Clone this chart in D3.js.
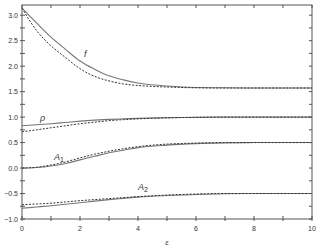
<!DOCTYPE html>
<html>
<head>
<meta charset="utf-8">
<script src="https://cdn.jsdelivr.net/npm/d3@7"></script>
<style>
  body { margin: 0; background: #fff; }
  svg text { font-family: Arial, "Liberation Sans", sans-serif; fill: #333; }
</style>
</head>
<body>
<div id="chart"></div>
<script>
// data
const eps = [0, 0.5, 1, 1.5, 2, 2.5, 3, 3.5, 4, 5, 6, 7, 8, 9, 10];

const fSolid  = [3.14, 2.85, 2.57, 2.33, 2.10, 1.94, 1.81, 1.73, 1.67, 1.61, 1.58, 1.575, 1.571, 1.571, 1.571];
const fDashed = [3.14, 2.70, 2.40, 2.17, 1.95, 1.80, 1.71, 1.65, 1.62, 1.59, 1.575, 1.571, 1.571, 1.571, 1.571];

const rhoSolid  = [0.83, 0.85, 0.87, 0.895, 0.92, 0.94, 0.955, 0.965, 0.975, 0.99, 0.995, 1.0, 1.0, 1.0, 1.0];
const rhoDashed = [0.71, 0.75, 0.79, 0.83, 0.87, 0.90, 0.93, 0.95, 0.965, 0.985, 0.995, 1.0, 1.0, 1.0, 1.0];

const a1Solid  = [0, 0.01, 0.04, 0.09, 0.16, 0.23, 0.30, 0.35, 0.40, 0.45, 0.48, 0.495, 0.5, 0.5, 0.5];
const a1Dashed = [0, 0.015, 0.06, 0.12, 0.20, 0.27, 0.33, 0.38, 0.42, 0.47, 0.49, 0.5, 0.5, 0.5, 0.5];

const a2Solid  = [-0.79, -0.765, -0.74, -0.71, -0.68, -0.65, -0.62, -0.595, -0.57, -0.54, -0.52, -0.505, -0.5, -0.5, -0.5];
const a2Dashed = [-0.72, -0.705, -0.69, -0.665, -0.64, -0.62, -0.60, -0.58, -0.56, -0.53, -0.51, -0.5, -0.5, -0.5, -0.5];

const xMajor = [0, 2, 4, 6, 8, 10];
const xMinor = [1, 3, 5, 7, 9];
const yMajor = [-1.0, -0.5, 0.0, 0.5, 1.0, 1.5, 2.0, 2.5, 3.0];
const yMinor = [-0.75, -0.25, 0.25, 0.75, 1.25, 1.75, 2.25, 2.75];

const width = 318, height = 250;
const plot = { left: 22, right: 312, top: 5, bottom: 219 };

const x = d3.scaleLinear().domain([0, 10]).range([plot.left, plot.right]);
const y = d3.scaleLinear().domain([-1, 3.2]).range([plot.bottom, plot.top]);

const svg = d3.select("#chart").append("svg")
    .attr("width", width)
    .attr("height", height);

const line = d3.line()
    .x((d, i) => x(eps[i]))
    .y(d => y(d))
    .curve(d3.curveMonotoneX);

// curves
const curves = [
    [fSolid, false], [fDashed, true],
    [rhoSolid, false], [rhoDashed, true],
    [a1Solid, false], [a1Dashed, true],
    [a2Solid, false], [a2Dashed, true]
];
svg.append("g").selectAll("path")
    .data(curves).enter()
    .append("path")
    .attr("d", d => line(d[0]))
    .attr("fill", "none")
    .attr("stroke", d => d[1] ? "#333" : "#777")
    .attr("stroke-width", d => d[1] ? 1 : 1.1)
    .attr("stroke-dasharray", d => d[1] ? "2,1.5" : null);

// frame
svg.append("rect")
    .attr("x", plot.left).attr("y", plot.top)
    .attr("width", plot.right - plot.left).attr("height", plot.bottom - plot.top)
    .attr("fill", "none")
    .attr("stroke", "#555")
    .attr("stroke-width", 1);

// axes: bottom/left ticks cross the frame, top/right point inward
const tickLen = 3;
const ax = svg.append("g").attr("stroke", "#555").attr("stroke-width", 1);

xMajor.concat(xMinor).forEach(v => {
    ax.append("line").attr("x1", x(v)).attr("x2", x(v))
        .attr("y1", plot.bottom - tickLen).attr("y2", plot.bottom + 2);
    ax.append("line").attr("x1", x(v)).attr("x2", x(v))
        .attr("y1", plot.top).attr("y2", plot.top + tickLen);
});
yMajor.concat(yMinor).forEach(v => {
    ax.append("line").attr("y1", y(v)).attr("y2", y(v))
        .attr("x1", plot.left - 2).attr("x2", plot.left + tickLen);
    ax.append("line").attr("y1", y(v)).attr("y2", y(v))
        .attr("x1", plot.right - tickLen).attr("x2", plot.right);
});

svg.append("g").selectAll("text")
    .data(xMajor).enter()
    .append("text")
    .attr("x", d => x(d))
    .attr("y", plot.bottom + 12)
    .attr("text-anchor", "middle")
    .attr("font-size", 7)
    .text(d => d);

svg.append("g").selectAll("text")
    .data(yMajor).enter()
    .append("text")
    .attr("x", plot.left - 4)
    .attr("y", d => y(d) + 2.5)
    .attr("text-anchor", "end")
    .attr("font-size", 7)
    .text(d => d3.format(".1f")(d));

// axis title
svg.append("text")
    .attr("x", (plot.left + plot.right) / 2)
    .attr("y", 245)
    .attr("text-anchor", "middle")
    .attr("font-size", 8)
    .attr("font-style", "italic")
    .text("ε");

// curve labels
const labels = svg.append("g")
    .attr("font-size", 9)
    .attr("font-style", "italic")
    .attr("font-family", "'Liberation Serif', 'DejaVu Serif', serif");

labels.append("text").attr("x", 84).attr("y", 57).text("f");
labels.append("text").attr("x", 40).attr("y", 121).text("ρ");

const a1 = labels.append("text").attr("x", 54).attr("y", 160).text("A");
a1.append("tspan").attr("font-size", 7).attr("font-style", "normal").attr("dy", 2).text("1");

const a2 = labels.append("text").attr("x", 138).attr("y", 190).text("A");
a2.append("tspan").attr("font-size", 7).attr("font-style", "normal").attr("dy", 2).text("2");
</script>
</body>
</html>
